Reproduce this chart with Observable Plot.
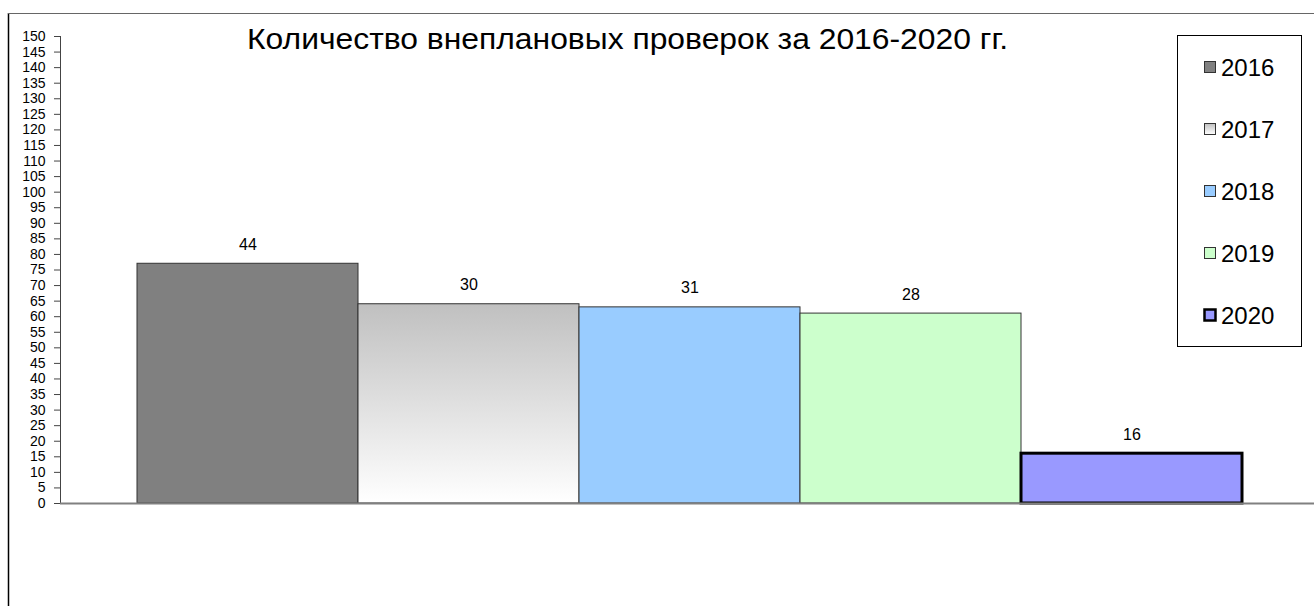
<!DOCTYPE html>
<html>
<head>
<meta charset="utf-8">
<script src="https://cdn.jsdelivr.net/npm/d3@7"></script>
<script src="https://cdn.jsdelivr.net/npm/@observablehq/plot@0.6"></script>
<style>
  html, body { margin: 0; padding: 0; background: #fff; overflow: hidden; }
  #chart { position: relative; width: 1314px; height: 606px; }
</style>
</head>
<body>
<div id="chart"></div>
<script>
const titleText = "Количество внеплановых проверок за 2016-2020 гг.";
const years = ["2016", "2017", "2018", "2019", "2020"];
const barHeights = [77, 64, 63, 61, 16];
const barLabels = [44, 30, 31, 28, 16];
const barFills = ["#808080", "url(#grad2017)", "#99ccff", "#ccffcc", "#9999ff"];
const barStrokes = ["#333333", "#333333", "#333333", "#333333", "#000000"];
const barStrokeWidths = [1, 1, 1, 1, 3];
const yTicks = [0,5,10,15,20,25,30,35,40,45,50,55,60,65,70,75,80,85,90,95,100,105,110,115,120,125,130,135,140,145,150];

const data = years.map((y, i) => ({
  year: y, value: barHeights[i], label: barLabels[i],
  fill: barFills[i], stroke: barStrokes[i], sw: barStrokeWidths[i]
}));

const chart = Plot.plot({
  width: 1314,
  height: 606,
  marginLeft: 60,
  marginRight: 0,
  marginTop: 36,
  marginBottom: 103,
  style: { fontFamily: "'Liberation Sans', Arial, sans-serif", color: "#000", background: "#fff" },
  x: { domain: years, range: [137, 1242], padding: 0, axis: null },
  y: { domain: [0, 150] },
  color: { type: "identity" },
  marks: [
    Plot.axisY({ ticks: yTicks, tickSize: 6, tickPadding: 9, fontSize: 14, label: null, stroke: "#444" }),
    Plot.frame({ anchor: "left", stroke: "#444" }),
    Plot.barY(data, { x: "year", y: "value", fill: "fill", stroke: "stroke", strokeWidth: "sw" }),
    Plot.ruleY([0], { stroke: "#808080", strokeWidth: 2 }),
    Plot.text(data, { x: "year", y: "value", text: d => String(d.label), dy: -19, fontSize: 16, fill: "#000" })
  ]
});

document.getElementById("chart").appendChild(chart);

const svg = d3.select(chart);
const defs = svg.insert("defs", ":first-child");
const g = defs.append("linearGradient").attr("id", "grad2017")
  .attr("x1", 0).attr("y1", 0).attr("x2", 0).attr("y2", 1);
g.append("stop").attr("offset", "0%").attr("stop-color", "#c0c0c0");
g.append("stop").attr("offset", "100%").attr("stop-color", "#ffffff");

// outer chart-area border (left and top)
svg.append("line").attr("x1", 8.5).attr("x2", 8.5).attr("y1", 13).attr("y2", 606)
  .attr("stroke", "#000").attr("stroke-width", 1.5);
svg.append("line").attr("x1", 8).attr("x2", 1314).attr("y1", 13.5).attr("y2", 13.5)
  .attr("stroke", "#666").attr("stroke-width", 1);

// title
svg.append("text")
  .attr("x", 247).attr("y", 49)
  .attr("text-anchor", "start")
  .attr("font-size", 29)
  .attr("textLength", 761)
  .attr("lengthAdjust", "spacingAndGlyphs")
  .attr("fill", "#000")
  .text(titleText);

// legend
const lg = svg.append("g").attr("text-anchor", "start");
lg.append("rect").attr("x", 1177.5).attr("y", 35.5).attr("width", 124).attr("height", 311)
  .attr("fill", "#fff").attr("stroke", "#000").attr("stroke-width", 1);
const legendY = [67, 129, 191, 253, 315];
years.forEach((yr, i) => {
  lg.append("rect")
    .attr("x", 1204.5).attr("y", legendY[i] - 5.5).attr("width", 11).attr("height", 11)
    .attr("fill", barFills[i]).attr("stroke", barStrokes[i]).attr("stroke-width", i === 4 ? 2.5 : 1);
  lg.append("text")
    .attr("x", 1221).attr("y", legendY[i])
    .attr("text-anchor", "start")
    .attr("dominant-baseline", "central")
    .attr("font-size", 24)
    .attr("fill", "#000")
    .text(yr);
});
</script>
</body>
</html>
